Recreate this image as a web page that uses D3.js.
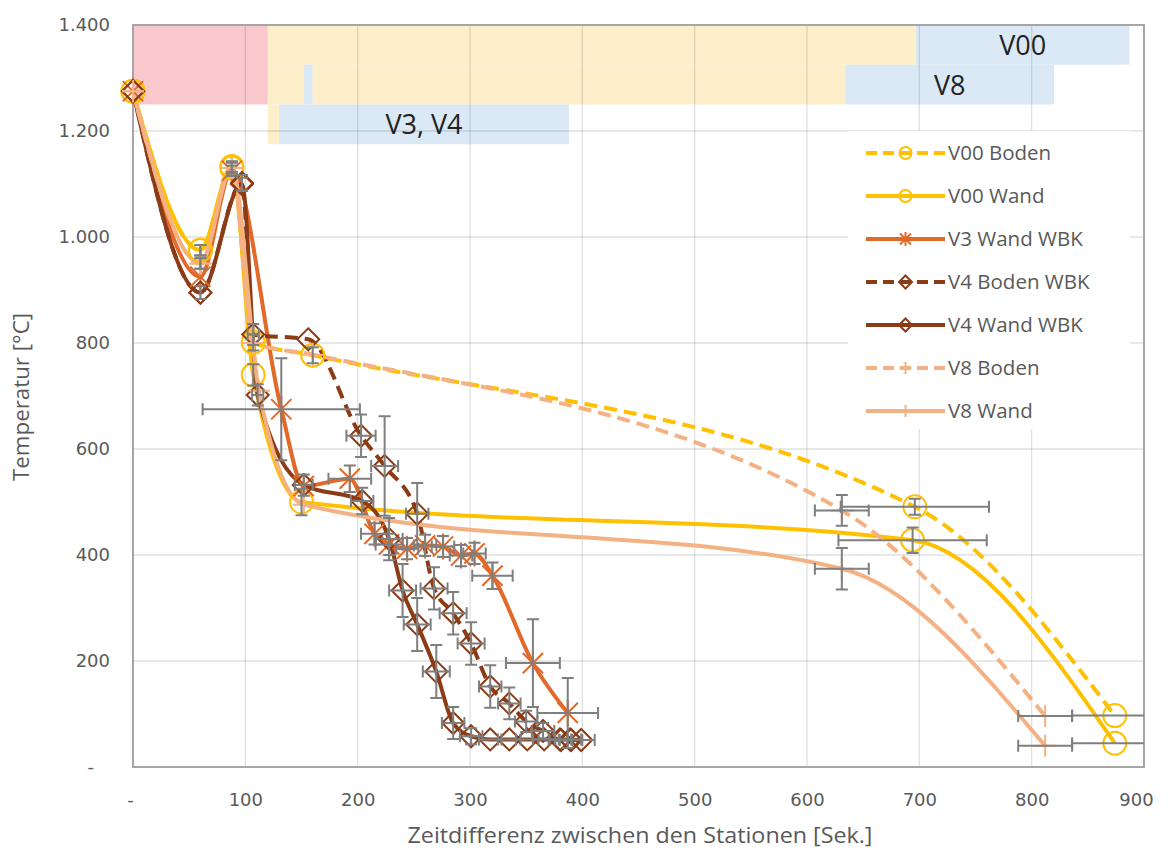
<!DOCTYPE html>
<html><head><meta charset="utf-8">
<script src="https://cdn.jsdelivr.net/npm/d3@7"></script>
<style>body{margin:0;background:#fff}svg{display:block}</style>
</head><body>
<svg id="chart" width="1173" height="850"></svg>
<script>
// ---------- DATA ----------
const xTicks = [0,100,200,300,400,500,600,700,800,900];
const xTickLabels = ["-","100","200","300","400","500","600","700","800","900"];
const yTicks = [0,200,400,600,800,1000,1200,1400];
const yTickLabels = ["-","200","400","600","800","1.000","1.200","1.400"];

const seriesNames = ["V00 Boden","V00 Wand","V3 Wand WBK","V4 Boden WBK","V4 Wand WBK","V8 Boden","V8 Wand"];

const v00BodenX = [0,60,88,107,160,696,874];
const v00BodenY = [1275,975,1130,801,777,491,97];
const v00BodenXErr = [0,0,0,0,0,66,38];
const v00BodenYErr = [0,10,10,15,15,15,0];

const v00WandX = [0,60,88,107,150,694,874];
const v00WandY = [1275,975,1133,740,500,428,45];
const v00WandXErr = [0,0,0,0,0,66,38];
const v00WandYErr = [0,10,10,20,25,24,0];

const v3WandX = [0,60,88,132,152,193,215,228,244,260,276,292,304,320,356,387];
const v3WandY = [1275,925,1125,675,530,544,440,420,412,418,416,399,403,361,196,102];
const v3WandXErr = [0,0,0,70,0,19,12,12,10,10,10,10,10,18,24,27];
const v3WandYErr = [0,0,10,96,0,25,20,20,20,20,20,20,20,25,83,66];

const v4BodenX = [0,60,97,107,156,203,224,253,268,285,301,318,335,350,365,381,390,399];
const v4BodenY = [1275,895,1102,816,807,625,568,478,337,290,233,152,120,86,68,51,51,51];
const v4BodenXErr = [0,0,0,5,0,13,12,10,12,12,12,10,10,10,10,10,10,12];
const v4BodenYErr = [0,0,15,20,0,40,94,58,40,40,40,40,30,20,15,0,0,0];

const v4WandX = [0,60,97,111,152,204,228,240,253,270,285,301,318,335,351,366,380,389];
const v4WandY = [1275,895,1100,702,532,502,430,333,269,180,83,58,52,52,52,52,52,52];
const v4WandXErr = [0,0,0,5,8,10,12,12,12,12,10,10,10,10,10,10,10,10];
const v4WandYErr = [0,12,12,20,20,25,40,50,50,50,30,15,0,0,0,0,0,0];

const v8BodenX = [0,60,88,107,160,631,812];
const v8BodenY = [1275,950,1130,800,778,484,96];
const v8BodenXErr = [0,0,0,0,0,24,24];
const v8BodenYErr = [0,10,0,0,0,29,0];

const v8WandX = [0,60,88,112,152,631,812];
const v8WandY = [1275,950,1130,710,495,374,40];
const v8WandXErr = [0,0,0,0,0,24,24];
const v8WandYErr = [0,10,0,0,0,39,0];

// background process bands (x in s, y in °C)
const bandStart  = [0,   120, 697, 120, 152, 160, 634, 120, 130];
const bandEnd    = [120, 697, 887, 152, 160, 634, 820, 130, 388];
const bandTop    = [1400,1400,1400,1325,1325,1325,1325,1250,1250];
const bandBottom = [1250,1325,1325,1250,1250,1250,1250,1175,1175];
const bandKind   = ["hot","mid","cool","mid","cool","mid","cool","mid","cool"];
const bandLabels = ["V00","V8","V3, V4"];
const bandLabelBand = [2,6,8];

// ---------- LAYOUT ----------
const L=133,R=1144,T=25,B=767;
const svg=d3.select("#chart");
const x=d3.scaleLinear().domain([0,900]).range([L,R]);
const y=d3.scaleLinear().domain([0,1400]).range([B,T]);
const bandColor={hot:"#F8C8CC",mid:"#FCEFC9",cool:"#DBE8F6"};
const txtCol="#595959";

// bands
svg.append("g").selectAll("rect").data(bandStart.map((s,i)=>i)).join("rect")
  .attr("x",i=>x(bandStart[i])).attr("width",i=>x(bandEnd[i])-x(bandStart[i]))
  .attr("y",i=>y(bandTop[i])).attr("height",i=>y(bandBottom[i])-y(bandTop[i]))
  .attr("fill",i=>bandColor[bandKind[i]]);

// grid
const grid=svg.append("g").attr("stroke","rgba(0,0,0,0.12)").attr("stroke-width",1.3);
xTicks.slice(1,-1).forEach(t=>grid.append("line").attr("x1",x(t)).attr("x2",x(t)).attr("y1",T).attr("y2",B));
yTicks.slice(1,-1).forEach(t=>grid.append("line").attr("y1",y(t)).attr("y2",y(t)).attr("x1",L).attr("x2",R));

// band labels
svg.append("g").selectAll("text").data(bandLabels).join("text")
  .attr("x",(d,i)=>x((bandStart[bandLabelBand[i]]+bandEnd[bandLabelBand[i]])/2))
  .attr("y",(d,i)=>y((bandTop[bandLabelBand[i]]+bandBottom[bandLabelBand[i]])/2)+10)
  .attr("text-anchor","middle").attr("font-family","'Open Sans',sans-serif")
  .attr("font-size",27).attr("fill","#222").text(d=>d);

// frame
svg.append("rect").attr("x",L).attr("y",T).attr("width",R-L).attr("height",B-T)
  .attr("fill","none").attr("stroke","#a6a6a6").attr("stroke-width",2);

// axes
const xAxis=d3.axisBottom(x).tickValues(xTicks).tickFormat((d,i)=>xTickLabels[i]).tickSize(0).tickPadding(26);
const gx=svg.append("g").attr("transform",`translate(0,${B})`).call(xAxis);
const yAxis=d3.axisLeft(y).tickValues(yTicks).tickFormat((d,i)=>yTickLabels[i]).tickSize(0).tickPadding(23);
const gy=svg.append("g").attr("transform",`translate(${L},0)`).call(yAxis);
[gx,gy].forEach(g=>{g.select(".domain").remove();
  g.selectAll("text").attr("font-family","'DejaVu Sans',sans-serif").attr("font-size",18).attr("fill",txtCol);});
gx.selectAll("text").filter((d,i)=>i===9).attr("dx",-8);
gx.selectAll("text").filter((d,i)=>i===0).attr("dx",-3);
gy.selectAll("text").filter((d,i)=>i===0).attr("dx",-16);

// axis titles
svg.append("text").attr("x",640).attr("y",843).attr("text-anchor","middle")
  .attr("font-family","'Open Sans',sans-serif").attr("font-size",22).attr("fill",txtCol)
  .attr("textLength",465).attr("lengthAdjust","spacingAndGlyphs")
  .text("Zeitdifferenz zwischen den Stationen [Sek.]");
svg.append("text").attr("transform","translate(29,397) rotate(-90)").attr("text-anchor","middle")
  .attr("font-family","'Open Sans',sans-serif").attr("font-size",22).attr("fill",txtCol)
  .attr("textLength",168).attr("lengthAdjust","spacingAndGlyphs")
  .text("Temperatur [°C]");

// series
const series=[
 {x:v00BodenX,y:v00BodenY,xe:v00BodenXErr,ye:v00BodenYErr,color:"#FFC000",dash:true,marker:"circle"},
 {x:v00WandX,y:v00WandY,xe:v00WandXErr,ye:v00WandYErr,color:"#FFC000",dash:false,marker:"circle"},
 {x:v3WandX,y:v3WandY,xe:v3WandXErr,ye:v3WandYErr,color:"#E2692A",dash:false,marker:"star"},
 {x:v4BodenX,y:v4BodenY,xe:v4BodenXErr,ye:v4BodenYErr,color:"#8B3C16",dash:true,marker:"diamond"},
 {x:v4WandX,y:v4WandY,xe:v4WandXErr,ye:v4WandYErr,color:"#8B3C16",dash:false,marker:"diamond"},
 {x:v8BodenX,y:v8BodenY,xe:v8BodenXErr,ye:v8BodenYErr,color:"#F4B183",dash:true,marker:"plus"},
 {x:v8WandX,y:v8WandY,xe:v8WandXErr,ye:v8WandYErr,color:"#F4B183",dash:false,marker:"plus"}
];
series.forEach((s,i)=>s.name=seriesNames[i]);

function markerPath(type,s){
  if(type==="circle") return `M${-s},0A${s},${s} 0 1,0 ${s},0A${s},${s} 0 1,0 ${-s},0Z`;
  if(type==="diamond") return `M0,${-s}L${s},0L0,${s}L${-s},0Z`;
  if(type==="plus") return `M${-s},0L${s},0M0,${-s}L0,${s}`;
  const d=s*0.78; return `M${-d},${-d}L${d},${d}M${-d},${d}L${d},${-d}M0,${-s}L0,${s}`;
}
const markerSize={circle:11.5,diamond:11,plus:11,star:13};

svg.append("defs").append("clipPath").attr("id","clip").append("rect")
  .attr("x",L).attr("y",T).attr("width",R-L).attr("height",B-T);

const line=d3.line().x(d=>x(d[0])).y(d=>y(d[1])).curve(d3.curveMonotoneX);
const plot=svg.append("g");
series.forEach(s=>{
  const pts=s.x.map((v,i)=>[v,s.y[i]]);
  plot.append("path").attr("d",line(pts)).attr("fill","none").attr("stroke",s.color)
    .attr("stroke-width",4).attr("stroke-dasharray",s.dash?"13,7":null).attr("clip-path","url(#clip)");
});
const eb=svg.append("g").attr("stroke","#7f7f7f").attr("stroke-width",2).attr("clip-path","url(#clip)");
series.forEach(s=>{
  s.x.forEach((v,i)=>{
    const cx=x(v),cy=y(s.y[i]),c=6;
    if(s.xe[i]>0){const a=x(v-s.xe[i]),b=x(v+s.xe[i]);
      eb.append("path").attr("d",`M${a},${cy}H${b}M${a},${cy-c}V${cy+c}M${b},${cy-c}V${cy+c}`).attr("fill","none");}
    if(s.ye[i]>0){const a=y(s.y[i]+s.ye[i]),b=y(s.y[i]-s.ye[i]);
      eb.append("path").attr("d",`M${cx},${a}V${b}M${cx-c},${a}H${cx+c}M${cx-c},${b}H${cx+c}`).attr("fill","none");}
  });
});
series.forEach(s=>{
  plot.append("g").selectAll("path").data(s.x.map((v,i)=>[v,s.y[i]])).join("path")
    .attr("transform",d=>`translate(${x(d[0])},${y(d[1])})`)
    .attr("d",markerPath(s.marker,markerSize[s.marker]))
    .attr("fill","none").attr("stroke",s.color).attr("stroke-width",2);
});
svg.node().appendChild(eb.node());

// legend
const lg=svg.append("g");
lg.append("rect").attr("x",848).attr("y",131).attr("width",282).attr("height",298).attr("fill","#fff");
const legSize={circle:6,diamond:6.5,plus:6,star:7};
series.forEach((s,i)=>{
  const ly=153+i*43;
  lg.append("line").attr("x1",866).attr("x2",945).attr("y1",ly).attr("y2",ly)
    .attr("stroke",s.color).attr("stroke-width",4).attr("stroke-dasharray",s.dash?"11,6":null);
  lg.append("path").attr("transform",`translate(905.5,${ly})`).attr("d",markerPath(s.marker,legSize[s.marker]))
    .attr("fill","none").attr("stroke",s.color).attr("stroke-width",2);
  lg.append("text").attr("x",948).attr("y",ly+7).attr("font-family","'Open Sans',sans-serif")
    .attr("font-size",20.5).attr("fill",txtCol).text(s.name);
});
</script>
</body></html>
